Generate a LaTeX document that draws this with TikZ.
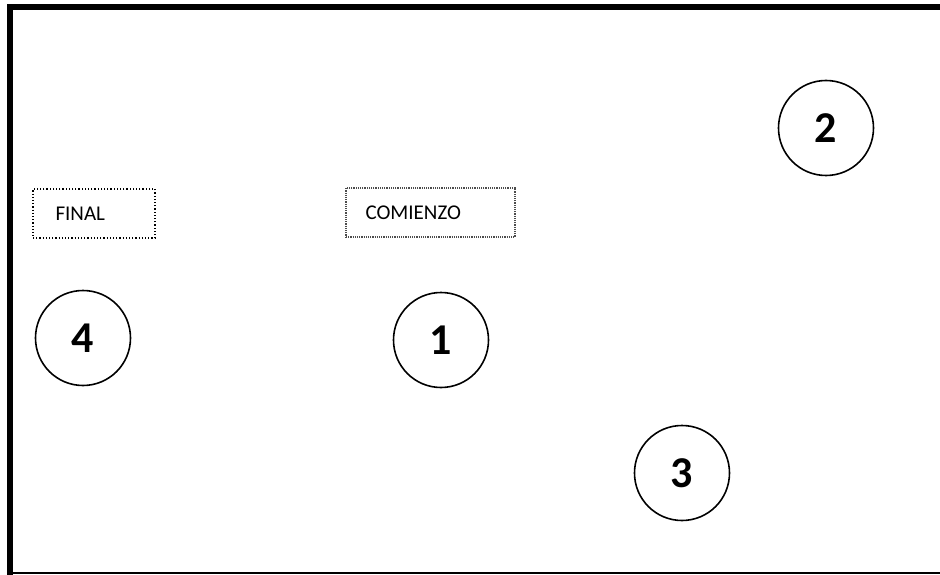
\documentclass[tikz,border=0pt]{standalone}
\usepackage{fontspec}
\setmainfont{Carlito}
\begin{document}
\begin{tikzpicture}[x=1pt,y=-1pt,
  num/.style={circle,draw,line width=1.6pt,minimum size=95pt,inner sep=0pt,font=\fontsize{44}{44}\selectfont\bfseries},
  lbl/.style={draw,line width=1.2pt,minimum height=49pt,inner sep=0pt},
  txt/.style={anchor=west,font=\fontsize{21}{21}\selectfont},
]
\useasboundingbox (0,0) rectangle (940,575);
\fill[white] (0,0) rectangle (940,575);
% frame
\draw[line width=6pt] (10,575) -- (10,7) -- (940,7);
\draw[line width=2pt] (10,573) -- (940,573);
% circles
\node[num] (c2) at (826,128) {2};
\node[num] (c1) at (441,340) {1};
\node[num] (c4) at (83,338) {4};
\node[num] (c3) at (682,473) {3};
% labels
\node[lbl,dotted,minimum width=122pt] (fin) at (94,213.5) {};
\node[txt] (fint) at (52,213.5) {FINAL};
\node[lbl,densely dotted,draw=black!70,minimum width=169pt] (com) at (430.5,212.5) {};
\node[txt] (comt) at (362,212.5) {COMIENZO};
\end{tikzpicture}
\end{document}
